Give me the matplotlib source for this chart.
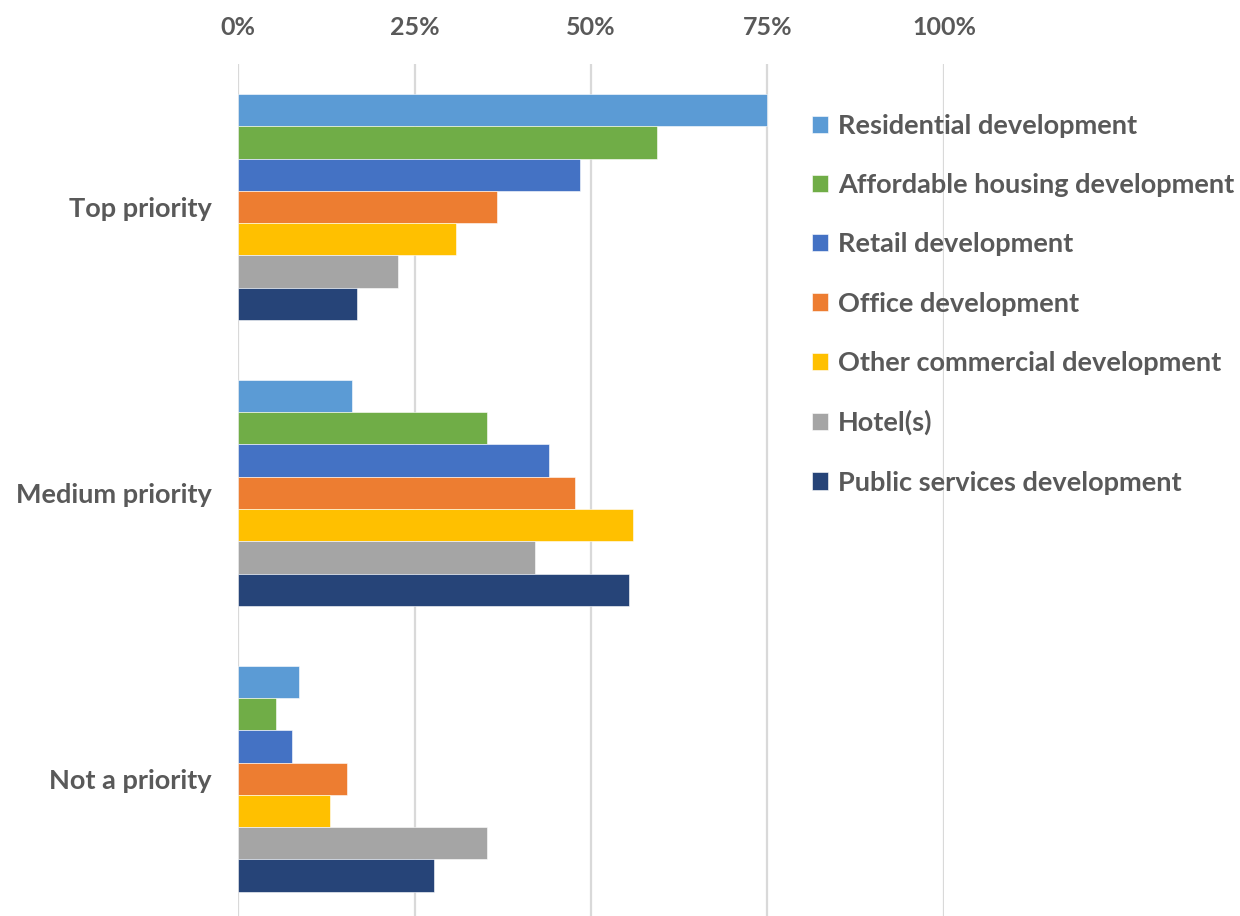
import matplotlib
matplotlib.use("Agg")
import matplotlib.pyplot as plt
import numpy as np

categories = ["Top priority", "Medium priority", "Not a priority"]
series_names = [
    "Residential development",
    "Affordable housing development",
    "Retail development",
    "Office development",
    "Other commercial development",
    "Hotel(s)",
    "Public services development",
]
residential = [75.0, 16.2, 8.6]
affordable = [59.4, 35.2, 5.4]
retail = [48.4, 44.0, 7.6]
office = [36.7, 47.8, 15.5]
other_commercial = [30.9, 56.0, 13.1]
hotels = [22.6, 42.1, 35.2]
public_services = [16.8, 55.4, 27.7]
x_ticks = [0, 25, 50, 75, 100]
x_tick_labels = ["0%", "25%", "50%", "75%", "100%"]

series_values = [residential, affordable, retail, office,
                 other_commercial, hotels, public_services]
colors = ["#5B9BD5", "#70AD47", "#4472C4", "#ED7D31",
          "#FFC000", "#A5A5A5", "#264478"]
text_color = "#595959"

plt.rcParams["font.family"] = ["Lato", "DejaVu Sans"]
plt.rcParams["font.weight"] = "bold"

fig = plt.figure(figsize=(12.4, 9.16), dpi=100)
ax = fig.add_axes([238 / 1240, 0.0, (944 - 238) / 1240, (916 - 64) / 916])

n = len(series_values)
bar_h = 0.79 / n
y = np.arange(len(categories))
for i, (vals, col, name) in enumerate(zip(series_values, colors, series_names)):
    offs = (i - (n - 1) / 2) * bar_h
    ax.barh(y + offs, vals, height=bar_h, color=col, label=name,
            edgecolor="white", linewidth=0.4, zorder=3)

ax.set_xlim(0, 100)
ax.set_ylim(2.48, -0.5)
ax.set_xticks(x_ticks)
ax.set_xticklabels(x_tick_labels)
ax.xaxis.tick_top()
ax.tick_params(axis="x", length=0, pad=18, labelsize=18, labelcolor=text_color)
ax.set_yticks(y)
ax.set_yticklabels(categories)
ax.tick_params(axis="y", length=0, pad=19, labelsize=19.5, labelcolor=text_color)
for lbl in ax.get_xticklabels() + ax.get_yticklabels():
    lbl.set_fontweight("bold")

ax.grid(axis="x", color="#D9D9D9", linewidth=1.6, zorder=0)
for s in ax.spines.values():
    s.set_visible(False)

leg = fig.legend(loc="upper left", bbox_to_anchor=(812 / 1240, 1 - 114 / 916),
                 frameon=False, fontsize=19.5, labelspacing=1.3,
                 handlelength=0.6, handleheight=0.6, handletextpad=0.35,
                 borderaxespad=0, borderpad=0)
for t in leg.get_texts():
    t.set_color(text_color)
    t.set_fontweight("bold")

fig.savefig("out.png", dpi=100)
